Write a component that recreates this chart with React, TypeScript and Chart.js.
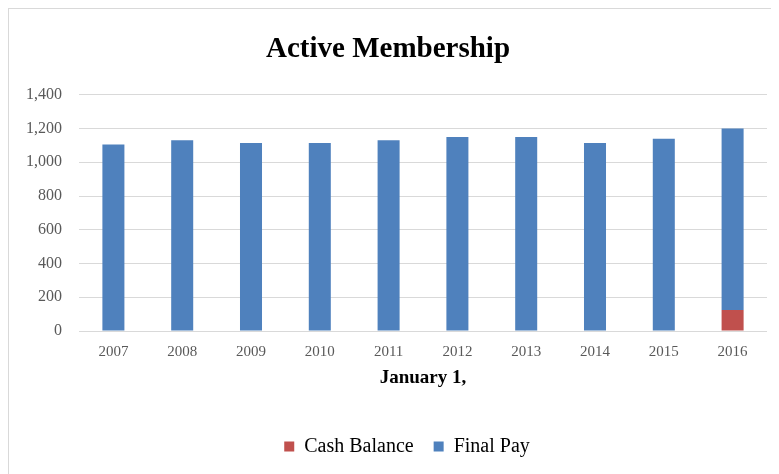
import React, { useEffect, useRef } from "react";
import { Chart, registerables } from "chart.js";

Chart.register(...registerables);

const categories = ["2007", "2008", "2009", "2010", "2011", "2012", "2013", "2014", "2015", "2016"];
const cashBalance = [0, 0, 0, 0, 0, 0, 0, 0, 0, 125];
const finalPay = [1105, 1130, 1115, 1115, 1130, 1150, 1150, 1115, 1140, 1075];
const yTicksMax = 1400;
const yStep = 200;

const FONT = "'Liberation Serif', 'Times New Roman', serif";
Chart.defaults.font.family = FONT;

const legendShift = {
  id: "legendShift",
  afterLayout(chart: any) {
    if (chart.legend) {
      chart.legend.left += 19;
      chart.legend.right += 19;
    }
  },
};

export default function App() {
  const ref = useRef<HTMLCanvasElement | null>(null);

  useEffect(() => {
    document.body.style.overflow = "hidden";
    const canvas = ref.current;
    if (!canvas) return;
    const chart = new Chart(canvas, {
      type: "bar",
      data: {
        labels: categories,
        datasets: [
          {
            label: "Cash Balance",
            data: cashBalance,
            backgroundColor: "#C0504D",
            categoryPercentage: 1,
            barPercentage: 0.32,
          },
          {
            label: "Final Pay",
            data: finalPay,
            backgroundColor: "#4F81BD",
            categoryPercentage: 1,
            barPercentage: 0.32,
          },
        ],
      },
      plugins: [legendShift],
      options: {
        animation: false,
        responsive: true,
        maintainAspectRatio: false,
        font: { family: FONT },
        layout: { padding: { left: 0, right: 12, top: 0, bottom: 7.5 } },
        plugins: {
          title: {
            display: true,
            text: "Active Membership",
            color: "#000000",
            font: { family: FONT, size: 29, weight: "bold" },
            padding: { top: 23, bottom: 28 },
          },
          legend: {
            display: true,
            position: "bottom",
            labels: {
              color: "#000000",
              font: { family: FONT, size: 20, weight: "normal" },
              boxWidth: 10,
              boxHeight: 10,
              padding: 20,
            },
          },
          tooltip: { enabled: false },
        },
        scales: {
          x: {
            stacked: true,
            grid: { display: false },
            border: { display: false },
            ticks: {
              color: "#595959",
              font: { family: FONT, size: 15 },
              padding: 4,
            },
            title: {
              display: true,
              text: "January 1,",
              color: "#000000",
              font: { family: FONT, size: 19, weight: "bold" },
              padding: { top: 0, bottom: 27.1 },
            },
            afterFit: (scale: any) => {
              scale.height = 85.5;
            },
          },
          y: {
            stacked: true,
            min: 0,
            max: yTicksMax,
            grid: { color: "#D9D9D9", drawTicks: false, lineWidth: 1 },
            border: { display: false },
            ticks: {
              stepSize: yStep,
              color: "#595959",
              font: { family: FONT, size: 16 },
              padding: 17,
              callback: (v: any) => Number(v).toLocaleString("en-US"),
            },
            afterFit: (scale: any) => {
              scale.width = 70;
            },
          },
        },
      },
    });
    return () => chart.destroy();
  }, []);

  return (
    <div
      style={{
        width: 770,
        height: 465,
        borderLeft: "1px solid #D9D9D9",
        borderTop: "1px solid #D9D9D9",
        position: "relative",
        background: "#FFFFFF",
      }}
    >
      <canvas ref={ref} />
    </div>
  );
}
